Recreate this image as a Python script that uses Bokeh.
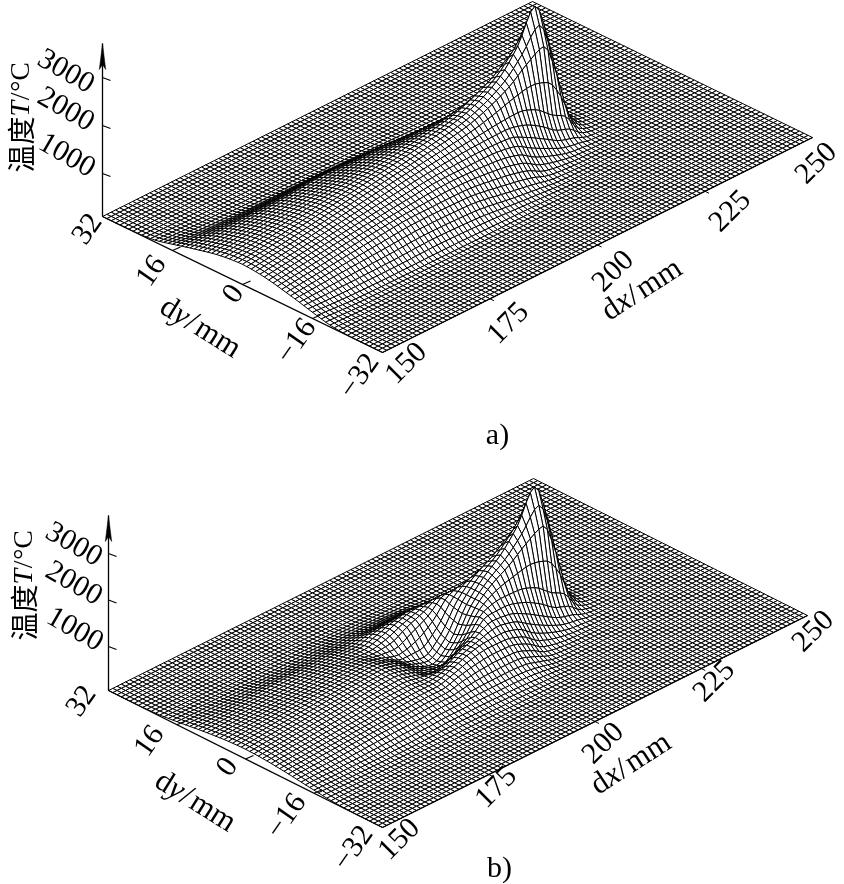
import math
import numpy as np
from bokeh.plotting import figure
from bokeh.models import Range1d
from bokeh.core.properties import value
from bokeh.embed import file_html
from bokeh.resources import INLINE

# Temperatures (deg C) at coarse stations. The drawn 1 mm mesh
# is filled in BETWEEN these read values by monotone interpolation (not measured per node).
DY_STATIONS = [0, 2, 4, 6, 8, 10, 12, 14, 17, 20, 24, 28, 32]
DX_A = [150, 160, 170, 180, 190, 200, 206, 210, 214, 218, 221, 224, 227, 230, 250]
T_A = [
    [520, 510, 490, 460, 420, 375, 330, 280, 205, 140, 105, 100, 100],
    [650, 640, 615, 580, 530, 470, 390, 280, 145, 110, 102, 100, 100],
    [800, 785, 750, 700, 640, 565, 440, 290, 130, 105, 101, 100, 100],
    [950, 930, 880, 810, 730, 640, 490, 320, 125, 103, 100, 100, 100],
    [1100, 1070, 1000, 900, 790, 640, 470, 290, 115, 102, 100, 100, 100],
    [1280, 1230, 1090, 930, 750, 530, 320, 190, 115, 101, 100, 100, 100],
    [1500, 1430, 1150, 900, 640, 400, 220, 140, 105, 100, 100, 100, 100],
    [1750, 1620, 1170, 740, 420, 220, 140, 110, 102, 100, 100, 100, 100],
    [2200, 1900, 1050, 530, 270, 150, 115, 102, 100, 100, 100, 100, 100],
    [2850, 2100, 760, 320, 160, 115, 102, 100, 100, 100, 100, 100, 100],
    [2050, 1400, 600, 240, 130, 105, 100, 100, 100, 100, 100, 100, 100],
    [450, 370, 220, 130, 105, 100, 100, 100, 100, 100, 100, 100, 100],
    [150, 130, 110, 102, 100, 100, 100, 100, 100, 100, 100, 100, 100],
    [102, 101, 100, 100, 100, 100, 100, 100, 100, 100, 100, 100, 100],
    [100, 100, 100, 100, 100, 100, 100, 100, 100, 100, 100, 100, 100],
]
DX_B = [150, 160, 170, 178, 182, 186, 190, 194, 198, 202, 206, 210, 214, 218, 221, 224, 227, 230, 250]
T_B = [
    [310, 305, 295, 280, 260, 240, 215, 190, 155, 125, 105, 100, 100],
    [390, 385, 370, 345, 315, 285, 245, 195, 140, 115, 102, 100, 100],
    [480, 470, 445, 410, 375, 340, 300, 220, 135, 110, 102, 100, 100],
    [540, 530, 505, 470, 430, 380, 320, 240, 150, 115, 102, 100, 100],
    [560, 550, 520, 480, 440, 400, 340, 260, 165, 118, 102, 100, 100],
    [470, 460, 440, 440, 440, 400, 340, 260, 165, 115, 101, 100, 100],
    [260, 270, 330, 470, 540, 500, 390, 280, 165, 112, 100, 100, 100],
    [130, 190, 430, 650, 680, 580, 420, 280, 160, 108, 100, 100, 100],
    [420, 500, 680, 800, 770, 620, 430, 280, 150, 105, 100, 100, 100],
    [1050, 1070, 1080, 970, 790, 610, 420, 260, 135, 103, 100, 100, 100],
    [1450, 1400, 1180, 930, 700, 480, 300, 190, 120, 102, 100, 100, 100],
    [1750, 1620, 1170, 760, 440, 240, 150, 115, 102, 100, 100, 100, 100],
    [2200, 1900, 1050, 530, 270, 150, 115, 102, 100, 100, 100, 100, 100],
    [2850, 2100, 760, 320, 160, 115, 102, 100, 100, 100, 100, 100, 100],
    [2050, 1400, 600, 240, 130, 105, 100, 100, 100, 100, 100, 100, 100],
    [450, 370, 220, 130, 105, 100, 100, 100, 100, 100, 100, 100, 100],
    [150, 130, 110, 102, 100, 100, 100, 100, 100, 100, 100, 100, 100],
    [102, 101, 100, 100, 100, 100, 100, 100, 100, 100, 100, 100, 100],
    [100, 100, 100, 100, 100, 100, 100, 100, 100, 100, 100, 100, 100],
]
T_TICKS = [1000, 2000, 3000]
DX_TICKS = [150, 175, 200, 225, 250]
DY_TICKS = [32, 16, 0, -16, -32]
T_AMBIENT = 100

SERIF = value("Liberation Serif")
CJK = value("Noto Sans CJK SC")

p = figure(width=844, height=884, x_range=Range1d(0, 844), y_range=Range1d(884, 0),
           output_backend="svg", toolbar_location=None, min_border=0)
p.styles = {"position": "fixed", "left": "0px", "top": "0px"}
p.axis.visible = False
p.grid.visible = False
p.outline_line_color = None
p.background_fill_color = "white"
p.border_fill_color = "white"


def pchip(xs, ys, xq):
    xs = np.asarray(xs, float); ys = np.asarray(ys, float)
    h = np.diff(xs); d = np.diff(ys) / h
    m = np.zeros_like(ys)
    for i in range(1, len(xs) - 1):
        if d[i - 1] * d[i] > 0:
            w1 = 2 * h[i] + h[i - 1]; w2 = h[i] + 2 * h[i - 1]
            m[i] = (w1 + w2) / (w1 / d[i - 1] + w2 / d[i])
    m[0] = d[0]; m[-1] = d[-1]
    k = np.clip(np.searchsorted(xs, xq, side="right") - 1, 0, len(h) - 1)
    t = (xq - xs[k]) / h[k]
    return ((2*t**3 - 3*t**2 + 1) * ys[k] + (t**3 - 2*t**2 + t) * h[k] * m[k]
            + (-2*t**3 + 3*t**2) * ys[k + 1] + (t**3 - t**2) * h[k] * m[k + 1])


def fine_grid(dx_st, table):
    dxs = np.arange(150, 251, dtype=float)
    dys = np.arange(-32, 33, dtype=float)
    tab = np.array(table, float)
    by_dy = np.array([pchip(DY_STATIONS, row, np.abs(dys)) for row in tab])
    return dxs, dys, np.array([pchip(dx_st, by_dy[:, j], dxs) for j in range(len(dys))]).T


def panel(dx_st, table, left, front, right, tscale, t1000y, axis_top):
    ex = ((right[0] - front[0]) / 100.0, (right[1] - front[1]) / 100.0)   # per mm of dx
    ey = ((left[0] - front[0]) / 64.0, (left[1] - front[1]) / 64.0)       # per mm of dy above -32

    def proj(dx, dy, T=T_AMBIENT):
        u = np.asarray(dx, float) - 150; v = np.asarray(dy, float) + 32
        return (front[0] + ex[0] * u + ey[0] * v,
                front[1] + ex[1] * u + ey[1] * v - (np.asarray(T, float) - T_AMBIENT) * tscale)

    dxs, dys, T = fine_grid(dx_st, table)
    D, Y = np.meshgrid(dxs, dys, indexing="ij")
    X_s, Y_s = proj(D, Y, T)
    _, base = proj(D, Y)
    qx, qy, key = [], [], []
    for i in range(len(dxs) - 1):
        for j in range(len(dys) - 1):
            qx.append([X_s[i, j], X_s[i + 1, j], X_s[i + 1, j + 1], X_s[i, j + 1]])
            qy.append([Y_s[i, j], Y_s[i + 1, j], Y_s[i + 1, j + 1], Y_s[i, j + 1]])
            key.append(base[i, j])
    order = np.argsort(key)
    p.patches([qx[k] for k in order], [qy[k] for k in order], fill_color="white",
              line_color="black", line_width=1.0)

    # axes
    x0, y0 = proj(150, 32)
    xf, yf = proj(150, -32)
    xr, yr = proj(250, -32)
    p.line([x0, xf], [y0, yf], line_color="black", line_width=1.3)
    p.line([xf, xr], [yf, yr], line_color="black", line_width=1.3)
    p.line([x0, x0], [y0, axis_top], line_color="black", line_width=1.3)
    p.patches([[x0, x0 - 3.2, x0, x0 + 3.2]], [[axis_top, axis_top + 26, axis_top + 21, axis_top + 26]],
              fill_color="black", line_color="black", line_width=0.5)
    for t in T_TICKS:
        y = t1000y + (t - 1000) * -tscale
        p.line([x0, x0 + 8], [y, y + 3], line_color="black", line_width=1.2)
    for d in DY_TICKS[1:-1]:
        a, b = proj(150, d)
        p.line([a, a + 8], [b, b - 3.5], line_color="black", line_width=1.2)
    for d in DX_TICKS[1:-1]:
        a, b = proj(d, -32)
        p.line([a, a + 4], [b, b + 2], line_color="black", line_width=1.0)
    return proj


def label(x, y, s, deg, size=30):
    p.text([x], [y], text=[s], angle=math.radians(deg), text_align="center", text_baseline="middle",
           text_font=SERIF, text_font_size=f"{size}px", text_color="black")


def run(x, y, deg, pieces, size=31):
    """Lay mixed-style text along a rotated baseline; y grows downward on the page."""
    a = math.radians(deg)
    for s, st, font, w in pieces:
        p.text([x], [y], text=[s], angle=a, text_align="left", text_baseline="middle",
               text_font=font, text_font_style=st, text_font_size=f"{size}px", text_color="black")
        x += w * size * math.cos(a)
        y -= w * size * math.sin(a)


DY_RUN = lambda letter: [("d", "normal", SERIF, .5), (letter, "italic", SERIF, .46),
                         ("/", "normal", SERIF, .36), ("mm", "normal", SERIF, 1.56)]
T_RUN = [("温", "normal", CJK, 1.0), ("度", "normal", CJK, 1.0), ("T", "italic", SERIF, .58),
         ("/", "normal", SERIF, .30), ("°", "normal", SERIF, .40), ("C", "normal", SERIF, .67)]

# panel a
panel(DX_A, T_A, (102, 216), (382, 352), (812, 137), 0.048, 173, 43)
label(66, 70, "3000", -30); label(66, 108, "2000", -30); label(67, 154, "1000", -30)
label(86, 228, "32", 55); label(150, 270, "16", 55); label(232, 293, "0", 55)
label(295, 340, "\u221216", 55); label(358, 375, "\u221232", 55)
label(405, 362, "150", 45); label(507, 322, "175", 45); label(612, 270, "200", 45)
label(729, 210, "225", 45); label(815, 162, "250", 45)
run(603, 312, 33, DY_RUN("x")); run(163, 302, -32, DY_RUN("y"))
run(19, 172, 90, T_RUN, 28)
label(497, 433, "a)", 0)

# panel b
panel(DX_B, T_B, (108, 690), (382, 827), (807, 615), 0.0465, 646, 515)
label(74, 543, "3000", -30); label(74, 582, "2000", -30); label(75, 628, "1000", -30)
label(80, 700, "32", 55); label(148, 740, "16", 55); label(226, 766, "0", 55)
label(285, 815, "\u221216", 55); label(352, 847, "\u221232", 55)
label(398, 838, "150", 45); label(495, 786, "175", 45); label(602, 742, "200", 45)
label(713, 680, "225", 45); label(812, 630, "250", 45)
run(592, 786, 33, DY_RUN("x")); run(158, 776, -32, DY_RUN("y"))
run(22, 640, 90, T_RUN, 28)
label(499, 866, "b)", 0)

open("out.html", "w").write(file_html(p, INLINE))
